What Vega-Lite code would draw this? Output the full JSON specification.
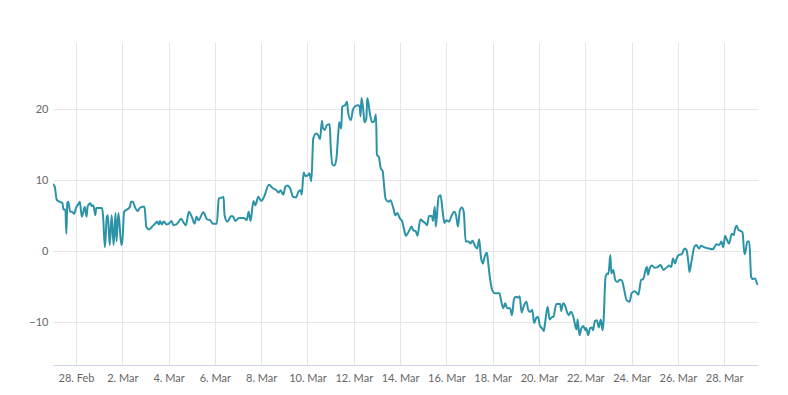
{
  "$schema": "https://vega.github.io/schema/vega-lite/v6.json",
  "width": 705,
  "height": 323,
  "autosize": {"type": "none"},
  "padding": {"left": 53, "top": 42, "right": 30, "bottom": 30},
  "background": "#ffffff",
  "config": {
    "view": {"stroke": null},
    "font": "Lato",
    "axis": {"labelFont": "Lato", "labelFontSize": 11, "labelColor": "#666666", "gridColor": "#e6e6e6", "gridWidth": 1}
  },
  "data": {"values": [
    {"t":"2023-02-27T00:00:00Z","v":9.5},{"t":"2023-02-27T02:00:00Z","v":9.1},{"t":"2023-02-27T04:00:00Z","v":7.3},{"t":"2023-02-27T07:00:00Z","v":7.0},{"t":"2023-02-27T10:00:00Z","v":6.8},{"t":"2023-02-27T11:00:00Z","v":5.9},{"t":"2023-02-27T13:00:00Z","v":5.9},{"t":"2023-02-27T14:00:00Z","v":2.5},{"t":"2023-02-27T15:00:00Z","v":6.8},{"t":"2023-02-27T16:00:00Z","v":7.0},{"t":"2023-02-27T18:00:00Z","v":5.6},{"t":"2023-02-27T20:00:00Z","v":5.6},{"t":"2023-02-27T22:00:00Z","v":5.3},
    {"t":"2023-02-28T00:00:00Z","v":6.1},{"t":"2023-02-28T03:00:00Z","v":6.8},{"t":"2023-02-28T04:00:00Z","v":7.0},{"t":"2023-02-28T06:00:00Z","v":4.9},{"t":"2023-02-28T08:00:00Z","v":5.8},{"t":"2023-02-28T09:00:00Z","v":6.3},{"t":"2023-02-28T11:00:00Z","v":4.9},{"t":"2023-02-28T12:00:00Z","v":6.3},{"t":"2023-02-28T15:00:00Z","v":6.8},{"t":"2023-02-28T16:00:00Z","v":6.4},{"t":"2023-02-28T18:00:00Z","v":6.5},{"t":"2023-02-28T20:00:00Z","v":5.1},{"t":"2023-02-28T21:00:00Z","v":6.1},
    {"t":"2023-03-01T00:00:00Z","v":6.1},{"t":"2023-03-01T03:00:00Z","v":6.1},{"t":"2023-03-01T04:00:00Z","v":5.1},{"t":"2023-03-01T06:00:00Z","v":0.6},{"t":"2023-03-01T08:00:00Z","v":4.9},{"t":"2023-03-01T09:00:00Z","v":5.1},{"t":"2023-03-01T11:00:00Z","v":0.9},{"t":"2023-03-01T13:00:00Z","v":5.1},{"t":"2023-03-01T15:00:00Z","v":0.9},{"t":"2023-03-01T17:00:00Z","v":5.4},{"t":"2023-03-01T18:00:00Z","v":1.4},{"t":"2023-03-01T20:00:00Z","v":5.4},{"t":"2023-03-01T23:00:00Z","v":0.9},
    {"t":"2023-03-02T00:00:00Z","v":1.4},{"t":"2023-03-02T02:00:00Z","v":5.6},{"t":"2023-03-02T05:00:00Z","v":5.9},{"t":"2023-03-02T08:00:00Z","v":6.3},{"t":"2023-03-02T09:00:00Z","v":7.0},{"t":"2023-03-02T11:00:00Z","v":7.0},{"t":"2023-03-02T13:00:00Z","v":6.3},{"t":"2023-03-02T16:00:00Z","v":5.7},{"t":"2023-03-02T18:00:00Z","v":6.1},{"t":"2023-03-02T21:00:00Z","v":6.3},{"t":"2023-03-02T23:00:00Z","v":6.3},
    {"t":"2023-03-03T01:00:00Z","v":3.4},{"t":"2023-03-03T04:00:00Z","v":3.1},{"t":"2023-03-03T07:00:00Z","v":3.5},{"t":"2023-03-03T10:00:00Z","v":3.9},{"t":"2023-03-03T12:00:00Z","v":4.2},{"t":"2023-03-03T14:00:00Z","v":3.8},{"t":"2023-03-03T15:00:00Z","v":4.3},{"t":"2023-03-03T17:00:00Z","v":3.8},{"t":"2023-03-03T19:00:00Z","v":4.2},{"t":"2023-03-03T22:00:00Z","v":3.8},
    {"t":"2023-03-04T01:00:00Z","v":4.0},{"t":"2023-03-04T03:00:00Z","v":4.3},{"t":"2023-03-04T05:00:00Z","v":3.7},{"t":"2023-03-04T08:00:00Z","v":3.8},{"t":"2023-03-04T10:00:00Z","v":4.1},{"t":"2023-03-04T13:00:00Z","v":4.6},{"t":"2023-03-04T15:00:00Z","v":4.2},{"t":"2023-03-04T18:00:00Z","v":3.7},{"t":"2023-03-04T21:00:00Z","v":5.6},
    {"t":"2023-03-05T00:00:00Z","v":4.9},{"t":"2023-03-05T03:00:00Z","v":3.9},{"t":"2023-03-05T05:00:00Z","v":4.9},{"t":"2023-03-05T07:00:00Z","v":4.4},{"t":"2023-03-05T12:00:00Z","v":5.5},{"t":"2023-03-05T16:00:00Z","v":4.5},{"t":"2023-03-05T19:00:00Z","v":4.4},{"t":"2023-03-05T22:00:00Z","v":3.9},
    {"t":"2023-03-06T02:00:00Z","v":3.9},{"t":"2023-03-06T04:00:00Z","v":7.4},{"t":"2023-03-06T05:00:00Z","v":7.5},{"t":"2023-03-06T08:00:00Z","v":7.6},{"t":"2023-03-06T09:00:00Z","v":7.7},{"t":"2023-03-06T10:00:00Z","v":5.1},{"t":"2023-03-06T13:00:00Z","v":4.2},{"t":"2023-03-06T17:00:00Z","v":5.0},{"t":"2023-03-06T19:00:00Z","v":4.9},{"t":"2023-03-06T21:00:00Z","v":4.3},
    {"t":"2023-03-07T01:00:00Z","v":4.7},{"t":"2023-03-07T06:00:00Z","v":4.7},{"t":"2023-03-07T09:00:00Z","v":4.4},{"t":"2023-03-07T11:00:00Z","v":5.6},{"t":"2023-03-07T13:00:00Z","v":4.3},{"t":"2023-03-07T16:00:00Z","v":7.1},{"t":"2023-03-07T18:00:00Z","v":6.5},{"t":"2023-03-07T21:00:00Z","v":7.7},
    {"t":"2023-03-08T00:00:00Z","v":7.1},{"t":"2023-03-08T03:00:00Z","v":7.7},{"t":"2023-03-08T08:00:00Z","v":9.4},{"t":"2023-03-08T12:00:00Z","v":8.9},{"t":"2023-03-08T16:00:00Z","v":8.6},{"t":"2023-03-08T18:00:00Z","v":8.3},{"t":"2023-03-08T20:00:00Z","v":8.6},{"t":"2023-03-08T23:00:00Z","v":8.0},
    {"t":"2023-03-09T01:00:00Z","v":9.1},{"t":"2023-03-09T03:00:00Z","v":9.3},{"t":"2023-03-09T06:00:00Z","v":8.9},{"t":"2023-03-09T09:00:00Z","v":7.7},{"t":"2023-03-09T12:00:00Z","v":7.6},{"t":"2023-03-09T15:00:00Z","v":8.5},{"t":"2023-03-09T17:00:00Z","v":8.6},{"t":"2023-03-09T18:00:00Z","v":8.0},{"t":"2023-03-09T20:00:00Z","v":11.1},{"t":"2023-03-09T22:00:00Z","v":10.6},
    {"t":"2023-03-10T01:00:00Z","v":10.8},{"t":"2023-03-10T02:00:00Z","v":11.0},{"t":"2023-03-10T04:00:00Z","v":9.9},{"t":"2023-03-10T06:00:00Z","v":15.9},{"t":"2023-03-10T09:00:00Z","v":16.6},{"t":"2023-03-10T11:00:00Z","v":16.4},{"t":"2023-03-10T13:00:00Z","v":15.8},{"t":"2023-03-10T15:00:00Z","v":18.4},{"t":"2023-03-10T16:00:00Z","v":17.4},{"t":"2023-03-10T18:00:00Z","v":17.1},{"t":"2023-03-10T20:00:00Z","v":17.8},{"t":"2023-03-10T23:00:00Z","v":17.9},
    {"t":"2023-03-11T00:00:00Z","v":15.0},{"t":"2023-03-11T02:00:00Z","v":12.2},{"t":"2023-03-11T04:00:00Z","v":12.1},{"t":"2023-03-11T06:00:00Z","v":13.1},{"t":"2023-03-11T08:00:00Z","v":16.8},{"t":"2023-03-11T09:00:00Z","v":18.2},{"t":"2023-03-11T11:00:00Z","v":17.3},{"t":"2023-03-11T12:00:00Z","v":20.4},{"t":"2023-03-11T15:00:00Z","v":20.6},{"t":"2023-03-11T17:00:00Z","v":21.1},{"t":"2023-03-11T18:00:00Z","v":19.7},{"t":"2023-03-11T21:00:00Z","v":18.5},{"t":"2023-03-11T23:00:00Z","v":19.9},
    {"t":"2023-03-12T01:00:00Z","v":20.4},{"t":"2023-03-12T04:00:00Z","v":20.6},{"t":"2023-03-12T06:00:00Z","v":20.5},{"t":"2023-03-12T07:00:00Z","v":19.0},{"t":"2023-03-12T08:00:00Z","v":21.6},{"t":"2023-03-12T10:00:00Z","v":19.7},{"t":"2023-03-12T11:00:00Z","v":18.2},{"t":"2023-03-12T13:00:00Z","v":18.7},{"t":"2023-03-12T14:00:00Z","v":21.6},{"t":"2023-03-12T17:00:00Z","v":19.2},{"t":"2023-03-12T19:00:00Z","v":18.2},{"t":"2023-03-12T21:00:00Z","v":18.3},{"t":"2023-03-12T23:00:00Z","v":19.3},
    {"t":"2023-03-13T00:00:00Z","v":13.6},{"t":"2023-03-13T02:00:00Z","v":13.3},{"t":"2023-03-13T04:00:00Z","v":11.7},{"t":"2023-03-13T06:00:00Z","v":11.3},{"t":"2023-03-13T07:00:00Z","v":9.9},{"t":"2023-03-13T09:00:00Z","v":7.4},{"t":"2023-03-13T12:00:00Z","v":7.0},{"t":"2023-03-13T14:00:00Z","v":7.2},{"t":"2023-03-13T17:00:00Z","v":6.1},{"t":"2023-03-13T19:00:00Z","v":5.1},{"t":"2023-03-13T21:00:00Z","v":5.4},
    {"t":"2023-03-14T00:00:00Z","v":4.6},{"t":"2023-03-14T02:00:00Z","v":4.3},{"t":"2023-03-14T04:00:00Z","v":3.2},{"t":"2023-03-14T06:00:00Z","v":2.2},{"t":"2023-03-14T09:00:00Z","v":2.8},{"t":"2023-03-14T12:00:00Z","v":3.5},{"t":"2023-03-14T14:00:00Z","v":2.9},{"t":"2023-03-14T16:00:00Z","v":2.9},{"t":"2023-03-14T18:00:00Z","v":2.2},{"t":"2023-03-14T21:00:00Z","v":4.5},{"t":"2023-03-14T23:00:00Z","v":4.3},
    {"t":"2023-03-15T02:00:00Z","v":4.0},{"t":"2023-03-15T04:00:00Z","v":3.7},{"t":"2023-03-15T06:00:00Z","v":5.0},{"t":"2023-03-15T09:00:00Z","v":5.0},{"t":"2023-03-15T10:00:00Z","v":4.3},{"t":"2023-03-15T12:00:00Z","v":6.3},{"t":"2023-03-15T13:00:00Z","v":3.5},{"t":"2023-03-15T16:00:00Z","v":7.7},{"t":"2023-03-15T18:00:00Z","v":7.9},{"t":"2023-03-15T20:00:00Z","v":5.8},{"t":"2023-03-15T22:00:00Z","v":4.0},
    {"t":"2023-03-16T00:00:00Z","v":4.4},{"t":"2023-03-16T03:00:00Z","v":4.2},{"t":"2023-03-16T05:00:00Z","v":4.9},{"t":"2023-03-16T08:00:00Z","v":5.6},{"t":"2023-03-16T10:00:00Z","v":5.1},{"t":"2023-03-16T12:00:00Z","v":3.5},{"t":"2023-03-16T14:00:00Z","v":5.8},{"t":"2023-03-16T16:00:00Z","v":6.2},{"t":"2023-03-16T18:00:00Z","v":5.6},{"t":"2023-03-16T20:00:00Z","v":1.4},{"t":"2023-03-16T23:00:00Z","v":1.4},
    {"t":"2023-03-17T01:00:00Z","v":1.1},{"t":"2023-03-17T03:00:00Z","v":1.5},{"t":"2023-03-17T06:00:00Z","v":0.7},{"t":"2023-03-17T08:00:00Z","v":0.4},{"t":"2023-03-17T10:00:00Z","v":1.7},{"t":"2023-03-17T12:00:00Z","v":-1.0},{"t":"2023-03-17T14:00:00Z","v":-1.7},{"t":"2023-03-17T15:00:00Z","v":-1.1},{"t":"2023-03-17T18:00:00Z","v":-0.2},{"t":"2023-03-17T19:00:00Z","v":-1.2},{"t":"2023-03-17T21:00:00Z","v":-3.6},{"t":"2023-03-17T23:00:00Z","v":-5.2},
    {"t":"2023-03-18T02:00:00Z","v":-5.9},{"t":"2023-03-18T04:00:00Z","v":-5.9},{"t":"2023-03-18T07:00:00Z","v":-5.9},{"t":"2023-03-18T09:00:00Z","v":-7.1},{"t":"2023-03-18T11:00:00Z","v":-8.0},{"t":"2023-03-18T13:00:00Z","v":-7.3},{"t":"2023-03-18T15:00:00Z","v":-8.0},{"t":"2023-03-18T18:00:00Z","v":-8.0},{"t":"2023-03-18T20:00:00Z","v":-9.0},{"t":"2023-03-18T22:00:00Z","v":-6.8},
    {"t":"2023-03-19T00:00:00Z","v":-6.4},{"t":"2023-03-19T03:00:00Z","v":-6.5},{"t":"2023-03-19T04:00:00Z","v":-6.3},{"t":"2023-03-19T06:00:00Z","v":-8.6},{"t":"2023-03-19T08:00:00Z","v":-7.8},{"t":"2023-03-19T11:00:00Z","v":-7.1},{"t":"2023-03-19T13:00:00Z","v":-8.3},{"t":"2023-03-19T15:00:00Z","v":-8.5},{"t":"2023-03-19T17:00:00Z","v":-8.2},{"t":"2023-03-19T19:00:00Z","v":-10.1},{"t":"2023-03-19T21:00:00Z","v":-9.4},{"t":"2023-03-19T23:00:00Z","v":-9.2},
    {"t":"2023-03-20T01:00:00Z","v":-10.5},{"t":"2023-03-20T03:00:00Z","v":-10.8},{"t":"2023-03-20T05:00:00Z","v":-11.2},{"t":"2023-03-20T06:00:00Z","v":-10.4},{"t":"2023-03-20T09:00:00Z","v":-7.8},{"t":"2023-03-20T11:00:00Z","v":-9.6},{"t":"2023-03-20T13:00:00Z","v":-9.3},{"t":"2023-03-20T15:00:00Z","v":-9.2},{"t":"2023-03-20T18:00:00Z","v":-7.4},{"t":"2023-03-20T22:00:00Z","v":-7.4},{"t":"2023-03-20T23:00:00Z","v":-8.4},
    {"t":"2023-03-21T01:00:00Z","v":-7.3},{"t":"2023-03-21T03:00:00Z","v":-7.6},{"t":"2023-03-21T05:00:00Z","v":-8.5},{"t":"2023-03-21T07:00:00Z","v":-9.0},{"t":"2023-03-21T09:00:00Z","v":-8.5},{"t":"2023-03-21T12:00:00Z","v":-9.4},{"t":"2023-03-21T14:00:00Z","v":-10.7},{"t":"2023-03-21T15:00:00Z","v":-11.0},{"t":"2023-03-21T16:00:00Z","v":-9.6},{"t":"2023-03-21T18:00:00Z","v":-11.8},{"t":"2023-03-21T20:00:00Z","v":-10.8},{"t":"2023-03-21T22:00:00Z","v":-10.5},
    {"t":"2023-03-22T00:00:00Z","v":-11.1},{"t":"2023-03-22T01:00:00Z","v":-10.8},{"t":"2023-03-22T03:00:00Z","v":-11.8},{"t":"2023-03-22T05:00:00Z","v":-10.8},{"t":"2023-03-22T07:00:00Z","v":-10.7},{"t":"2023-03-22T08:00:00Z","v":-11.1},{"t":"2023-03-22T10:00:00Z","v":-9.8},{"t":"2023-03-22T12:00:00Z","v":-9.7},{"t":"2023-03-22T14:00:00Z","v":-10.7},{"t":"2023-03-22T16:00:00Z","v":-9.6},{"t":"2023-03-22T18:00:00Z","v":-11.1},{"t":"2023-03-22T19:00:00Z","v":-9.7},{"t":"2023-03-22T21:00:00Z","v":-3.6},{"t":"2023-03-22T23:00:00Z","v":-3.1},
    {"t":"2023-03-23T00:00:00Z","v":-3.2},{"t":"2023-03-23T02:00:00Z","v":-0.5},{"t":"2023-03-23T03:00:00Z","v":-3.1},{"t":"2023-03-23T05:00:00Z","v":-2.6},{"t":"2023-03-23T07:00:00Z","v":-4.0},{"t":"2023-03-23T09:00:00Z","v":-4.3},{"t":"2023-03-23T12:00:00Z","v":-4.0},{"t":"2023-03-23T14:00:00Z","v":-4.1},{"t":"2023-03-23T16:00:00Z","v":-5.2},{"t":"2023-03-23T19:00:00Z","v":-6.9},{"t":"2023-03-23T22:00:00Z","v":-7.1},
    {"t":"2023-03-24T00:00:00Z","v":-5.9},{"t":"2023-03-24T03:00:00Z","v":-5.6},{"t":"2023-03-24T05:00:00Z","v":-5.8},{"t":"2023-03-24T07:00:00Z","v":-6.1},{"t":"2023-03-24T10:00:00Z","v":-4.0},{"t":"2023-03-24T12:00:00Z","v":-3.9},{"t":"2023-03-24T15:00:00Z","v":-2.4},{"t":"2023-03-24T16:00:00Z","v":-2.2},{"t":"2023-03-24T17:00:00Z","v":-3.3},{"t":"2023-03-24T19:00:00Z","v":-2.3},{"t":"2023-03-24T21:00:00Z","v":-2.0},
    {"t":"2023-03-25T00:00:00Z","v":-2.3},{"t":"2023-03-25T03:00:00Z","v":-2.2},{"t":"2023-03-25T06:00:00Z","v":-1.9},{"t":"2023-03-25T09:00:00Z","v":-2.6},{"t":"2023-03-25T12:00:00Z","v":-2.3},{"t":"2023-03-25T15:00:00Z","v":-2.0},{"t":"2023-03-25T17:00:00Z","v":-2.2},{"t":"2023-03-25T19:00:00Z","v":-1.0},{"t":"2023-03-25T21:00:00Z","v":-1.7},{"t":"2023-03-25T23:00:00Z","v":-0.9},
    {"t":"2023-03-26T01:00:00Z","v":-0.5},{"t":"2023-03-26T04:00:00Z","v":-0.4},{"t":"2023-03-26T07:00:00Z","v":0.4},{"t":"2023-03-26T09:00:00Z","v":0.2},{"t":"2023-03-26T11:00:00Z","v":-1.7},{"t":"2023-03-26T12:00:00Z","v":-2.9},{"t":"2023-03-26T14:00:00Z","v":-1.5},{"t":"2023-03-26T17:00:00Z","v":0.6},{"t":"2023-03-26T19:00:00Z","v":0.9},{"t":"2023-03-26T22:00:00Z","v":0.4},
    {"t":"2023-03-27T00:00:00Z","v":0.8},{"t":"2023-03-27T03:00:00Z","v":0.6},{"t":"2023-03-27T08:00:00Z","v":0.4},{"t":"2023-03-27T12:00:00Z","v":0.3},{"t":"2023-03-27T14:00:00Z","v":0.6},{"t":"2023-03-27T16:00:00Z","v":1.0},{"t":"2023-03-27T19:00:00Z","v":0.9},{"t":"2023-03-27T21:00:00Z","v":1.4},{"t":"2023-03-27T23:00:00Z","v":0.6},
    {"t":"2023-03-28T01:00:00Z","v":2.2},{"t":"2023-03-28T03:00:00Z","v":1.6},{"t":"2023-03-28T05:00:00Z","v":1.1},{"t":"2023-03-28T08:00:00Z","v":2.5},{"t":"2023-03-28T10:00:00Z","v":2.3},{"t":"2023-03-28T11:00:00Z","v":3.0},{"t":"2023-03-28T13:00:00Z","v":3.6},{"t":"2023-03-28T15:00:00Z","v":3.0},{"t":"2023-03-28T17:00:00Z","v":2.9},{"t":"2023-03-28T19:00:00Z","v":2.7},{"t":"2023-03-28T21:00:00Z","v":-0.4},{"t":"2023-03-28T22:00:00Z","v":-0.1},
    {"t":"2023-03-29T00:00:00Z","v":1.4},{"t":"2023-03-29T02:00:00Z","v":1.4},{"t":"2023-03-29T04:00:00Z","v":-3.6},{"t":"2023-03-29T06:00:00Z","v":-3.9},{"t":"2023-03-29T08:00:00Z","v":-3.8},{"t":"2023-03-29T10:00:00Z","v":-4.5},{"t":"2023-03-29T11:00:00Z","v":-4.7}
  ]},
  "mark": {"type": "line", "color": "#2b93a8", "strokeWidth": 2, "interpolate": "monotone", "clip": true},
  "encoding": {
    "x": {
      "field": "t", "type": "temporal", "title": null,
      "scale": {"type": "utc", "domain": [
        {"year": 2023, "month": 2, "date": 27, "hours": 0, "minutes": 10, "utc": true},
        {"year": 2023, "month": 3, "date": 29, "hours": 11, "minutes": 4, "utc": true}
      ]},
      "axis": {
        "values": [
          {"year": 2023, "month": 2, "date": 28, "utc": true},
          {"year": 2023, "month": 3, "date": 2, "utc": true},
          {"year": 2023, "month": 3, "date": 4, "utc": true},
          {"year": 2023, "month": 3, "date": 6, "utc": true},
          {"year": 2023, "month": 3, "date": 8, "utc": true},
          {"year": 2023, "month": 3, "date": 10, "utc": true},
          {"year": 2023, "month": 3, "date": 12, "utc": true},
          {"year": 2023, "month": 3, "date": 14, "utc": true},
          {"year": 2023, "month": 3, "date": 16, "utc": true},
          {"year": 2023, "month": 3, "date": 18, "utc": true},
          {"year": 2023, "month": 3, "date": 20, "utc": true},
          {"year": 2023, "month": 3, "date": 22, "utc": true},
          {"year": 2023, "month": 3, "date": 24, "utc": true},
          {"year": 2023, "month": 3, "date": 26, "utc": true},
          {"year": 2023, "month": 3, "date": 28, "utc": true}
        ],
        "format": "%-d. %b",
        "grid": true,
        "domainColor": "#ccd6eb",
        "domainWidth": 1,
        "ticks": false,
        "labelPadding": 7,
        "labelAngle": 0,
        "labelFlush": false,
        "labelOverlap": false
      }
    },
    "y": {
      "field": "v", "type": "quantitative", "title": null,
      "scale": {"domain": [-16, 29.5], "nice": false, "zero": false},
      "axis": {
        "values": [-10, 0, 10, 20],
        "grid": true,
        "domain": false,
        "ticks": false,
        "labelPadding": 5
      }
    }
  }
}
